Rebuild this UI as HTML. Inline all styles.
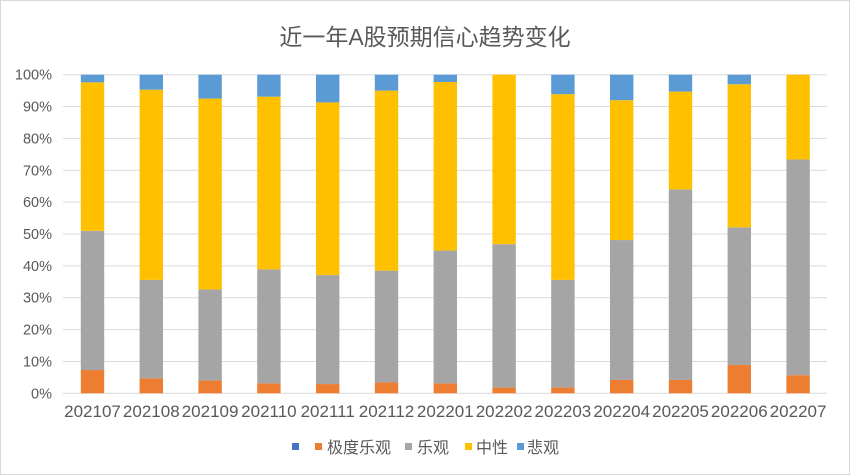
<!DOCTYPE html>
<html><head><meta charset="utf-8"><style>
body{margin:0;background:#fff}
svg{display:block}
text{font-family:"Liberation Sans","Noto Sans CJK SC",sans-serif;fill:#595959}
</style></head><body>
<svg width="850" height="475" viewBox="0 0 850 475" xmlns="http://www.w3.org/2000/svg">
<rect x="0.5" y="0.5" width="849" height="474" fill="#fff" stroke="#d9d9d9"/>
<text x="425" y="45" font-size="23" text-anchor="middle">近一年A股预期信心趋势变化</text>
<g id="grid" stroke="#d9d9d9" stroke-width="1"></g>
<g id="ylab" font-size="14.5" text-anchor="end"></g>
<g id="bars"></g>
<g id="xlab" font-size="17" text-anchor="middle"></g>
<g font-size="16">
<rect x="292" y="443" width="7" height="7" fill="#4472c4"/>
<rect x="315" y="443" width="7" height="7" fill="#ed7d31"/>
<text x="327" y="453">极度乐观</text>
<rect x="405" y="443" width="7" height="7" fill="#a5a5a5"/>
<text x="417" y="453">乐观</text>
<rect x="465" y="443" width="7" height="7" fill="#ffc000"/>
<text x="476" y="453">中性</text>
<rect x="517" y="443" width="7" height="7" fill="#5b9bd5"/>
<text x="527" y="453">悲观</text>
</g>
</svg>
<script>
var ns="http://www.w3.org/2000/svg";
function el(p,t,a,txt){var e=document.createElementNS(ns,t);for(var k in a)e.setAttribute(k,a[k]);if(txt)e.textContent=txt;document.getElementById(p).appendChild(e);}
var y0=393.3,h=318.6;
function Y(v){return y0-v/100*h;}
for(var i=0;i<=10;i++){var y=Y(i*10);el("grid","line",{x1:63,x2:827,y1:y,y2:y});el("ylab","text",{x:52,y:y+5},(i*10)+"%");}
var d=[[7.3,51,97.6],[4.7,35.6,95.3],[4,32.6,92.5],[3.1,38.9,93.1],[2.9,37.1,91.3],[3.4,38.5,95],[3.1,44.8,97.7],[1.8,46.8,100],[1.8,35.6,93.9],[4.2,48.1,92],[4.2,64,94.7],[8.9,52.1,97],[5.7,73.4,100]];
var labs=["202107","202108","202109","202110","202111","202112","202201","202202","202203","202204","202205","202206","202207"];
var cols=["#ed7d31","#a5a5a5","#ffc000","#5b9bd5"];
d.forEach(function(r,i){var c=92.5+i*58.8,x=c-11.7,prev=0,v=r.concat([100]);
for(var j=0;j<4;j++){if(v[j]>prev)el("bars","rect",{x:x,width:23.4,y:Y(v[j]),height:Y(prev)-Y(v[j]),fill:cols[j]});prev=v[j];}
el("xlab","text",{x:c,y:417},labs[i]);});
</script>
</body></html>
